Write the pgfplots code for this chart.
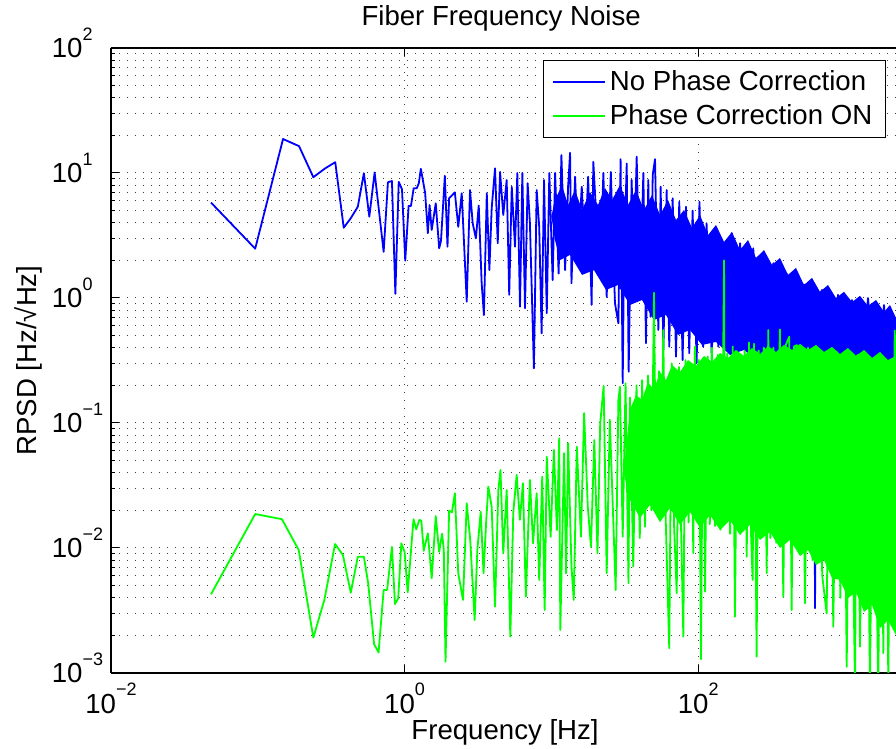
\documentclass[border=0pt]{standalone}
\usepackage{pgfplots}
\pgfplotsset{compat=1.18}
\usepackage{fontspec}
\setmainfont{Liberation Sans}
\definecolor{mblue}{RGB}{0,0,255}
\definecolor{mgreen}{RGB}{0,255,0}
\newcommand{\xtl}[1]{10\raisebox{8.6pt}{\fontsize{9}{9}\selectfont #1}}
\newcommand{\ytl}[1]{10\rlap{\smash{\raisebox{8.6pt}{\fontsize{9}{9}\selectfont #1}}}}
\begin{document}
\begin{tikzpicture}[font=\fontsize{13.8}{16}\selectfont]
\begin{axis}[
  scale only axis, width=392.5pt, height=312.5pt,
  xmode=log, ymode=log,
  xmin=0.01, xmax=2225, ymin=0.001, ymax=100,
  axis x line*=box, axis y line*=left,
  axis line style={line width=0.8pt, black},
  tick align=inside,
  major tick length=4pt, minor tick length=2pt,
  every tick/.style={black, line width=0.5pt},
  xtick={0.01,1,100},
  xticklabels={\xtl{−2},\xtl{0},\xtl{2}},
  ytick={0.001,0.01,0.1,1,10,100},
  yticklabels={\ytl{−3},\ytl{−2},\ytl{−1},\ytl{0},\ytl{1},\ytl{2}},
  minor ytick={0.002,0.003,0.004,0.005,0.006,0.007,0.008,0.009,
               0.02,0.03,0.04,0.05,0.06,0.07,0.08,0.09,
               0.2,0.3,0.4,0.5,0.6,0.7,0.8,0.9,
               2,3,4,5,6,7,8,9,20,30,40,50,60,70,80,90},
  xticklabel style={anchor=north, inner sep=0pt, yshift=-5pt},
  yticklabel style={anchor=east, inner sep=0pt, xshift=-14pt},
  grid=both,
  major grid style={line width=0.5pt, dash pattern=on 0.5pt off 3.5pt, black!75},
  minor grid style={line width=0.5pt, dash pattern=on 0.5pt off 3.5pt, black!75},
  title={Fiber Frequency Noise},
  every axis title/.style={at={(axis description cs:0.497,1.0352)}, anchor=base, inner sep=0pt},
  xlabel={Frequency [Hz]},
  every axis x label/.style={at={(axis description cs:0.502,-0.1056)}, anchor=base, inner sep=0pt},
  ylabel={RPSD [Hz/√Hz]},
  every axis y label/.style={at={(axis description cs:-0.0866,0.5)}, rotate=90, anchor=south, inner sep=0pt},
  legend style={at={(0.987,0.981)}, anchor=north east, draw=black, line width=0.5pt,
    fill=white, inner xsep=4.5pt, inner ysep=3pt, row sep=1.5pt,
    cells={anchor=west}},
  legend image code/.code={\draw[#1, line width=0.7pt] (0pt,0pt) -- (26pt,0pt);},
  every axis plot/.append style={line join=round},
]
% blue dense core
\addplot[draw=none, fill=mblue, forget plot] coordinates {
(10,4.5) (10.58,6.08) (11.81,8.02) (12.98,5.55) (14.48,7.31) (16.17,5.06) (18.32,7.05)
(20.77,5.55) (23.18,7.59) (25.87,6.08) (29.33,8.02) (33.25,5.55) (37.70,7.31)
(42.73,5.06) (48.44,6.67) (54.94,4.61) (62.28,6.08) (70.62,4.21) (80.07,5.06)
(90.76,3.63) (102.9,4.61) (116.7,3.19) (132.2,3.84) (149.9,2.81) (169.9,3.37)
(192.6,2.42) (218.4,2.91) (247.6,2.09) (280.7,2.42) (318.2,1.84) (360.7,2.09)
(409.0,1.53) (463.7,1.74) (525.7,1.27) (596.0,1.45) (675.5,1.12) (765.9,1.27)
(868.3,1.00) (984.5,1.12) (1116,0.929) (1265,1.04) (1434,0.863) (1627,0.964)
(1844,0.773) (2025,0.879) (2225,0.692)
(2225,0.201) (1844,0.221) (1480,0.201) (1188,0.229) (953.9,0.213) (765.9,0.256)
(614.9,0.229) (493.8,0.291) (396.4,0.265) (318.2,0.331) (255.5,0.308) (205.1,0.384)
(164.7,0.350) (132.2,0.445) (106.1,0.421) (87.96,0.555) (72.86,0.506) (60.36,0.731)
(49.97,0.667) (41.41,0.964) (34.30,0.879) (28.43,1.27) (23.55,1.16) (19.51,1.67)
(16.17,1.53) (13.39,2.21) (11.45,2.01) (10.58,2.91)
};
\addplot[mblue, line width=0.9pt] coordinates {
(0.048,5.8) (0.096,2.48) (0.1486,18.7) (0.191,16.4) (0.239,9.25) (0.288,10.9)
(0.337,12.2) (0.385,3.65) (0.43,4.35) (0.48,5.37) (0.528,9.95) (0.575,4.47)
(0.625,10.1) (0.72,2.34) (0.77,8.43) (0.82,8.63) (0.865,1.08) (0.912,8.5)
(0.96,7.41) (1.01,1.99) (1.065,5.45) (1.105,5.45) (1.153,7.55) (1.21,7.55)
(1.25,8.28) (1.29,10.8) (1.38,6.95) (1.44,3.3) (1.48,5.54) (1.53,3.5) (1.63,5.72)
(1.72,2.5) (1.77,2.87) (1.88,9.5) (1.96,2.57) (2.01,6.28) (2.2,7.0) (2.32,3.71)
(2.45,6.89) (2.65,0.934) (2.79,7.31) (2.91,3.96) (3.06,3.0) (3.2,5.5) (3.35,1.31)
(3.47,0.73) (3.63,6.89) (3.78,1.67) (3.92,5.22) (4.13,10.9) (4.31,2.74) (4.47,10.2)
(4.70,4.61) (4.96,8.79) (5.16,1.06) (5.37,7.77) (5.65,2.57) (5.86,10) (6.11,0.85)
(6.34,10) (6.61,0.83) (6.89,8.28) (7.14,3.96) (7.6,0.274) (7.94,7.31) (8.26,3.71)
(8.58,0.522) (8.91,8.79) (9.3,0.755) (9.68,10) (10.2,1.39) (10.6,10) (11.2,1.57)
(11.7,13.9) (12.4,1.67) (13.0,7.77) (13.4,14.5) (13.7,1.31) (14.5,9.33) (15.2,2.28)
(16.1,7.77) (16.9,2.42) (17.8,9.33) (18.8,0.88) (19.3,12.3) (20.4,3.71) (21.4,1.48)
(22.6,10) (23.8,1.02) (25.4,10.2) (27.1,0.91) (28.6,0.628) (29.6,12.9) (30.6,0.208)
(31.2,1.9) (32.6,11.9) (33.6,0.257) (35.2,8.79) (36.5,1.9) (38.1,13.5) (40.1,1.02)
(42.3,10) (44.1,0.434) (45.7,8.79) (47.4,0.708) (49,9.66) (50.8,12.9) (53.5,0.555)
(55.5,7.77) (57.9,0.384) (61,7.31) (63.5,0.408) (67,6.28) (70.6,0.339) (74.3,5.89)
(78.3,0.319) (82.6,5.37) (86.9,0.361) (91.6,5.0) (97.6,0.301) (102,5.89) (108,0.408)
(114,3.96) (124,0.319) (127,3.5) (137,0.408) (145,2.65) (160,0.434) (169,3.3)
(183,0.384) (193,2.74) (214,0.408) (237,2.5) (264,0.434) (278,2.08) (308,0.384)
(325,1.9) (361,0.434) (401,1.57) (445,0.434) (481,1.31) (534,1.27) (577.5,0.184)
(605,0.9) (615,0.3) (625,0.0033) (635,0.3) (660,1.0) (697,1.16) (790,0.201)
(896,1.06) (1016,0.184) (1116,0.964) (1265,0.191) (1435,1.0) (1627,0.177)
(1844,0.879) (2025,0.184) (2225,0.692)
};
\addlegendentry{No Phase Correction}
% green dense core
\addplot[draw=none, fill=mgreen, forget plot] coordinates {
(31,0.04) (34.30,0.127) (37.70,0.1675) (41.41,0.153) (45.50,0.213) (49.97,0.184)
(54.94,0.256) (60.36,0.221) (66.31,0.291) (75.16,0.256) (85.23,0.319) (96.63,0.286)
(109.6,0.344) (124.2,0.308) (140.8,0.363) (159.6,0.331) (180.9,0.384) (205.1,0.344)
(232.5,0.398) (263.6,0.356) (298.9,0.413) (338.8,0.370) (384.1,0.421) (435.5,0.384)
(493.8,0.429) (559.8,0.384) (634.7,0.421) (719.5,0.370) (815.5,0.406) (924.5,0.356)
(1048,0.398) (1188,0.344) (1347,0.384) (1528,0.331) (1731,0.370) (1963,0.319)
(2225,0.344)
(2225,0.00201) (1963,0.00265) (1731,0.00229) (1528,0.0035) (1347,0.00308)
(1188,0.00445) (1048,0.00398) (924.5,0.00555) (815.5,0.00575) (719.5,0.0080)
(634.7,0.00731) (559.8,0.00964) (493.8,0.00863) (422.1,0.0116) (360.7,0.01)
(308.4,0.0134) (263.6,0.0116) (225.4,0.0153) (192.6,0.0127) (164.7,0.0167)
(140.8,0.0139) (120.3,0.0184) (102.9,0.0145) (87.96,0.0194) (75.16,0.0153)
(64.26,0.0209) (54.94,0.0161) (46.96,0.0221) (40.14,0.0174) (34.30,0.0242)
};
\addplot[mgreen, line width=0.9pt] coordinates {
(0.048,0.00426) (0.096,0.0187) (0.146,0.0170) (0.19,0.00964) (0.239,0.00192)
(0.284,0.00384) (0.336,0.01076) (0.38,0.00879) (0.43,0.00439) (0.48,0.00851)
(0.528,0.0085) (0.565,0.00522) (0.62,0.0017) (0.665,0.00146) (0.72,0.00461)
(0.76,0.00462) (0.82,0.0102) (0.86,0.00356) (0.905,0.00396) (0.95,0.0109)
(1.0,0.0093) (1.05,0.00442) (1.15,0.017) (1.2,0.0141) (1.26,0.0168) (1.3,0.0165)
(1.35,0.0095) (1.44,0.0131) (1.53,0.00573) (1.63,0.018) (1.72,0.0093) (1.8,0.013)
(1.85,0.00964) (1.9,0.00123) (2.01,0.0199) (2.1,0.0193) (2.2,0.0274) (2.32,0.00628)
(2.5,0.00384) (2.65,0.0228) (2.8,0.0116) (3.0,0.00265) (3.13,0.00964) (3.3,0.0195)
(3.45,0.00628) (3.6,0.0168) (3.72,0.0309) (3.92,0.0214) (4.13,0.00339) (4.35,0.0291)
(4.5,0.0421) (4.7,0.00908) (4.96,0.0291) (5.25,0.00195) (5.5,0.0193) (5.8,0.0384)
(6.1,0.0168) (6.4,0.033) (6.7,0.00408) (7.14,0.035) (7.5,0.0109) (7.94,0.0274)
(8.26,0.00555) (8.66,0.0372) (9.0,0.00319) (9.3,0.0537) (9.88,0.0123) (10.4,0.0608)
(10.9,0.0139) (11.3,0.0755) (11.5,0.00221) (12.2,0.0573) (12.6,0.00628) (13.0,0.0689)
(13.7,0.0071) (14.2,0.00384) (14.9,0.0646) (15.9,0.0123) (16.7,0.120) (17.7,0.0214)
(18.6,0.0102) (19.6,0.0731) (20.6,0.00908) (21.5,0.0995) (22.7,0.198) (23.8,0.00628)
(25,0.106) (27.4,0.00461) (28.6,0.153) (29.3,0.195) (30.6,0.0123) (32,0.208)
(33.5,0.00522) (34.3,0.16) (36.1,0.0071) (38,0.2) (40,0.012) (41.5,0.22)
(43.4,0.0148) (45.5,0.24) (48,0.02) (50,1.1) (51.5,0.03) (54,0.26) (56,0.02)
(57.8,0.555) (60,0.018) (63.5,0.00158) (66,0.3) (68.5,0.015) (71.4,0.00435) (74,0.28)
(76.5,0.014) (79.2,0.00195) (82,0.319) (86,0.016) (89,0.3) (92.6,0.0091) (95,0.408)
(99,0.016) (101,0.32) (104.5,0.00129) (108,0.33) (111.3,0.00447) (116,0.34)
(120,0.0155) (124,0.40) (130,0.015) (136,0.35) (142,0.014) (148,0.35) (150,2.0)
(152,0.02) (158,0.36) (165,0.013) (172,0.41) (178,0.00282) (185,0.36) (200,0.014)
(207,0.38) (214,0.0085) (222,0.44) (229,0.013) (235,0.00555) (240,0.43) (250,0.00135)
(258,0.38) (270,0.013) (280,0.40) (293,0.00628) (300,0.555) (310,0.012) (325,0.40)
(340,0.011) (360,0.56) (380,0.00407) (395,0.42) (417,0.49) (433,0.00319) (450,0.41)
(470,0.42) (490,0.009) (510,0.40) (534,0.00361) (560,0.40) (600,0.008) (640,0.39)
(700,0.006) (750,0.0030) (790,0.38) (832,0.00234) (880,0.37) (930,0.004) (980,0.36)
(1027,0.00112) (1080,0.36) (1170,0.0008) (1210,0.35) (1265,0.00162) (1340,0.34)
(1400,0.34) (1479,0.0008) (1560,0.33) (1686,0.0007) (1750,0.32) (1824,0.00144)
(1900,0.31) (1972,0.0008) (2050,0.30) (2133,0.00234) (2180,0.55) (2225,0.29)
};
\addlegendentry{Phase Correction ON}
\end{axis}
\pgfresetboundingbox
\path[use as bounding box] (-55.5pt,-38pt) rectangle (392.5pt,336.5pt);
\end{tikzpicture}
\end{document}
